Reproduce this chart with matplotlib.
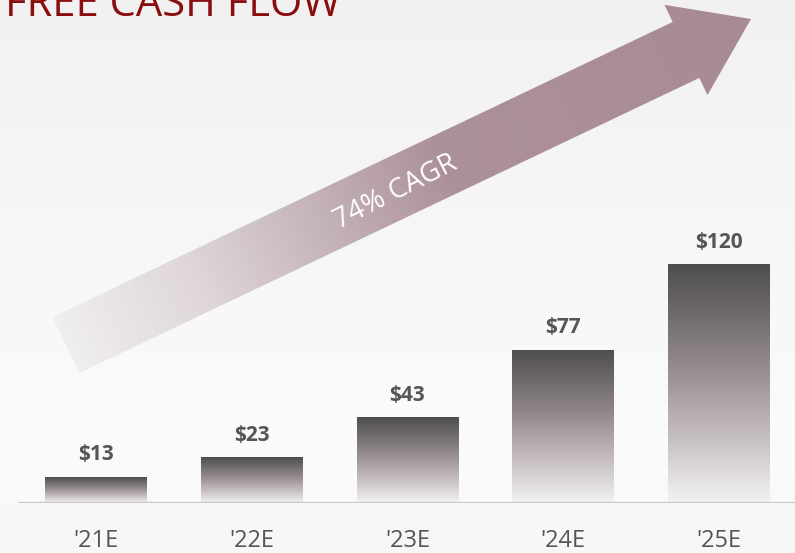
import numpy as np
import matplotlib
matplotlib.use("Agg")
import matplotlib.pyplot as plt
from matplotlib.colors import LinearSegmentedColormap
from matplotlib.patches import Polygon

plt.rcParams['font.family'] = ['Open Sans', 'DejaVu Sans']

years = ["'21E", "'22E", "'23E", "'24E", "'25E"]
fcf = [13, 23, 43, 77, 120]
value_labels = ['$13', '$23', '$43', '$77', '$120']
title = 'FREE CASH FLOW'
cagr_label = '74% CAGR'

W, H = 795, 553
fig = plt.figure(figsize=(W / 100, H / 100), dpi=100)

# background: soft grey gradient
bg = fig.add_axes([0, 0, 1, 1], zorder=0)
bg.axis('off')
yy = np.linspace(0, 1, 200)[:, None]
stops = [(0.0, 241), (0.45, 247), (0.82, 251), (1.0, 247)]
grey = np.interp(yy, [s[0] for s in stops], [s[1] for s in stops]) / 255
bg_img = np.dstack([grey, grey, grey + 0.002]).clip(0, 1)
bg.imshow(np.repeat(bg_img, 2, axis=1), aspect='auto', extent=(0, 1, 0, 1), origin='upper')
bg.set_xlim(0, 1)
bg.set_ylim(0, 1)

# main bar axes
ax = fig.add_axes([18 / W, 50 / H, 777 / W, 503 / H], zorder=1)
ax.patch.set_alpha(0)
x = np.arange(len(years))
bars = ax.bar(x, fcf, width=0.65, color='none', edgecolor='none')

bar_cmap = LinearSegmentedColormap.from_list(
    'bar', [(0, '#f3f2f3'), (0.3, '#c2babc'), (0.6, '#8f8687'), (1, '#4e4d4d')])
grad = np.linspace(0, 1, 256)[:, None]
for b in bars:
    bx, by, bw, bh = b.get_x(), b.get_y(), b.get_width(), b.get_height()
    im = ax.imshow(grad, cmap=bar_cmap, aspect='auto', origin='lower',
                   extent=(bx, bx + bw, by, by + bh), zorder=2)
    im.set_clip_path(b)

ax.set_xlim(-0.501, 4.49)
ax.set_ylim(0, 252.8)

for xi, v, lab in zip(x, fcf, value_labels):
    ax.annotate(lab, (xi, v), xytext=(0, 12), textcoords='offset points',
                ha='center', va='baseline', fontsize=15, fontweight='bold',
                color='#555555')

ax.axhline(0, color='#c8c8c8', lw=1.6, zorder=3)
ax.set_xticks(x, years)
ax.tick_params(axis='x', length=0, pad=19, labelsize=17, labelcolor='#555555')
ax.set_yticks([])
for s in ax.spines.values():
    s.set_visible(False)

# overlay in pixel coordinates: title and growth arrow
ov = fig.add_axes([0, 0, 1, 1], zorder=3)
ov.patch.set_alpha(0)
ov.axis('off')

ov.text(5, 16, title, color='#8a0d0d', fontsize=30, ha='left', va='baseline')

T = np.array([66.0, 345.0])
tip = np.array([751.0, 19.0])
L = np.linalg.norm(tip - T)
u = (tip - T) / L
n = np.array([-u[1], u[0]])
if n[1] < 0:
    n = -n
w, hw, hl = 62, 100, 72
B = T + u * (L - hl)
pts = [T - n * w / 2, B - n * w / 2, B - n * hw / 2, tip,
       B + n * hw / 2, B + n * w / 2, T + n * w / 2]
arrow = Polygon(pts, closed=True, facecolor='none', edgecolor='none')
ov.add_patch(arrow)

gx, gy = np.meshgrid(np.arange(W) + 0.5, np.arange(H) + 0.5)
t = ((gx - T[0]) * u[0] + (gy - T[1]) * u[1]) / L
ts = [0.0, 0.2, 0.4, 0.55, 1.0]
rgb = np.dstack([
    np.interp(t, ts, [240, 222, 192, 173, 168]),
    np.interp(t, ts, [238, 213, 174, 145, 138]),
    np.interp(t, ts, [240, 216, 179, 153, 146]),
]) / 255
aim = ov.imshow(rgb, extent=(0, W, H, 0), origin='upper', aspect='auto')
aim.set_clip_path(arrow)
ov.set_xlim(0, W)
ov.set_ylim(H, 0)

ov.text(396, 192, cagr_label, color='white', fontsize=20, rotation=27,
        rotation_mode='anchor', ha='center', va='center')

fig.savefig('out.png', dpi=100)
